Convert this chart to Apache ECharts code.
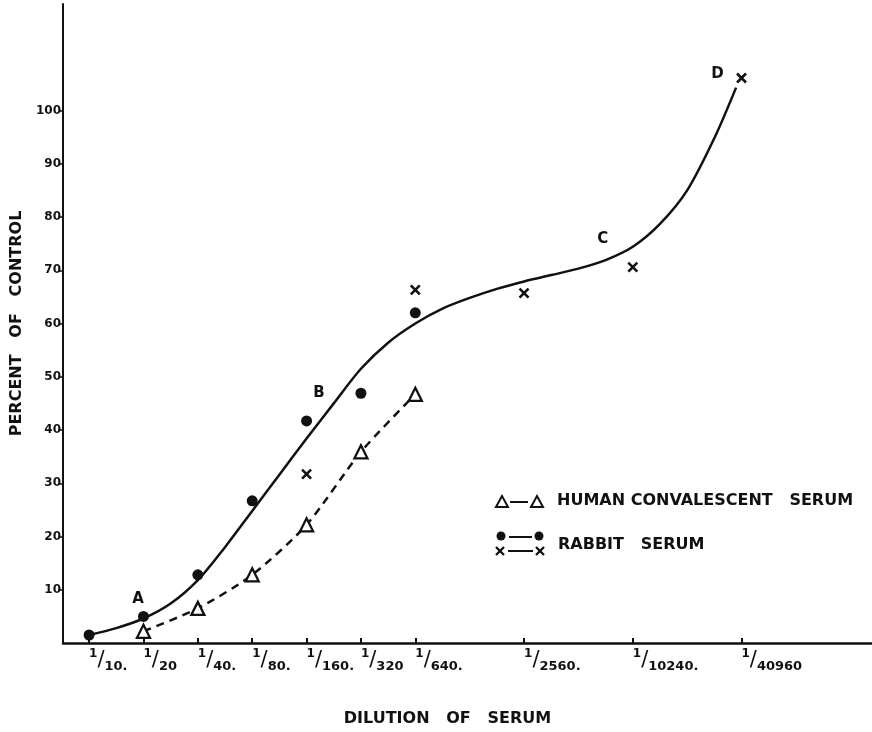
<!DOCTYPE html>
<html>
<head>
<meta charset="utf-8">
<script src="https://cdn.jsdelivr.net/npm/echarts@6/dist/echarts.min.js"></script>
<style>html,body{margin:0;padding:0;background:#fff}#c{width:872px;height:732px}</style>
</head>
<body>
<div id="c"></div>
<script>
// ---- data ----
const dilutions = [10, 20, 40, 80, 160, 320, 640, 2560, 10240, 40960];
const yTickValues = [10, 20, 30, 40, 50, 60, 70, 80, 90, 100];

const rabbitDotDil = [10, 20, 40, 80, 160, 320, 640];
const rabbitDotVal = [1.5, 5.0, 12.8, 26.7, 41.7, 46.9, 62.0];

const rabbitCrossDil = [160, 640, 2560, 10240, 40960];
const rabbitCrossVal = [31.7, 66.3, 65.7, 70.6, 106.1];

const humanDil = [20, 40, 80, 160, 320, 640];
const humanVal = [2.2, 6.5, 12.8, 22.2, 35.9, 46.7];

// drawn (fitted) rabbit curve, positions in doubling steps from 1/10
const curveStep = [0, 0.5, 1, 1.5, 2, 2.5, 3, 3.5, 4, 4.5, 5, 5.5, 6, 6.5, 7, 7.5, 8, 8.5, 9, 9.5, 10, 10.5, 11, 11.5, 11.9];
const curveVal  = [1.5, 2.8, 4.6, 7.4, 11.8, 18.0, 24.8, 31.6, 38.4, 45.0, 51.5, 56.4, 60.0, 62.8, 64.8, 66.5, 67.9, 69.1, 70.3, 71.9, 74.4, 78.7, 85.0, 94.8, 104.3];

const annoText = ['A', 'B', 'C', 'D'];
const annoStep = [0.9, 4.23, 9.45, 11.56];
const annoVal  = [8.3, 46.9, 75.9, 106.9];

// ---- helpers ----
const step = d => Math.log2(d / 10);
const tickSteps = dilutions.map(step);
const labelOf = {};
dilutions.forEach(d => { labelOf[step(d)] = d; });
const pts = (ds, vs) => ds.map((d, i) => [step(d), vs[i]]);

const INK = '#111';
const crossPath = 'path://M0,0L10,10M10,0L0,10';
const TITLE_FONT = {color: INK, fontSize: 16, fontWeight: 'bold', fontFamily: 'DejaVu Sans'};

const chart = echarts.init(document.getElementById('c'), null, {renderer: 'canvas'});
chart.setOption({
  animation: false,
  backgroundColor: '#fff',
  grid: {left: 63, right: 0, top: 4, bottom: 79, containLabel: false},
  xAxis: {
    type: 'value',
    min: -0.48, max: 14.4,
    name: 'DILUTION   OF   SERUM',
    nameLocation: 'middle',
    nameGap: 68,
    nameTextStyle: Object.assign({padding: [0, 40, 0, 0]}, TITLE_FONT),
    splitLine: {show: false},
    axisLine: {onZero: false, lineStyle: {color: INK, width: 2.5}},
    axisTick: {show: true, inside: true, length: 5, lineStyle: {color: INK, width: 2}, customValues: tickSteps},
    axisLabel: {
      customValues: tickSteps,
      margin: 5,
      align: 'left',
      color: INK,
      formatter: v => {
        const d = labelOf[v];
        return '{o|1}{s|/}{n|' + d + (d === 20 || d === 320 || d === 40960 ? '' : '.') + '}';
      },
      rich: {
        o: {fontSize: 12, fontWeight: 'bold', fontFamily: 'DejaVu Sans', verticalAlign: 'top', lineHeight: 25, color: INK},
        s: {fontSize: 21, fontFamily: 'DejaVu Sans', verticalAlign: 'middle', lineHeight: 25, color: INK},
        n: {fontSize: 13, fontWeight: 'bold', fontFamily: 'DejaVu Sans', verticalAlign: 'bottom', lineHeight: 25, color: INK}
      }
    }
  },
  yAxis: {
    type: 'value',
    min: 0, max: 120,
    name: 'PERCENT   OF   CONTROL',
    nameLocation: 'middle',
    nameGap: 36,
    nameTextStyle: TITLE_FONT,
    splitLine: {show: false},
    axisLine: {onZero: false, lineStyle: {color: INK, width: 2}},
    axisTick: {show: true, length: 4, lineStyle: {color: INK, width: 1.5}, customValues: yTickValues},
    axisLabel: {customValues: yTickValues, margin: 2, color: INK, fontSize: 12, fontWeight: 'bold', fontFamily: 'DejaVu Sans'}
  },
  series: [
    {
      name: 'rabbit curve', type: 'line', smooth: 0.3, symbol: 'none',
      data: curveStep.map((s, i) => [s, curveVal[i]]),
      lineStyle: {color: INK, width: 2.5}, z: 2
    },
    {
      name: 'human', type: 'line', smooth: 0.25,
      data: pts(humanDil, humanVal),
      symbol: 'triangle', symbolSize: 13,
      itemStyle: {color: '#fff', borderColor: INK, borderWidth: 2.3},
      lineStyle: {color: INK, width: 2.5, type: [8, 6]}, z: 3
    },
    {
      name: 'rabbit dots', type: 'scatter',
      data: pts(rabbitDotDil, rabbitDotVal),
      symbol: 'circle', symbolSize: 11,
      itemStyle: {color: INK, opacity: 1}, z: 4
    },
    {
      name: 'rabbit crosses', type: 'scatter',
      data: pts(rabbitCrossDil, rabbitCrossVal),
      symbol: crossPath, symbolSize: 9,
      itemStyle: {color: 'none', borderColor: INK, borderWidth: 2.6, opacity: 1}, z: 4
    },
    {
      name: 'letters', type: 'scatter', symbol: 'circle', symbolSize: 2, silent: true,
      itemStyle: {color: 'rgba(0,0,0,0)', opacity: 1},
      data: annoText.map((t, i) => ({name: t, value: [annoStep[i], annoVal[i]]})),
      label: {show: true, position: 'inside', formatter: p => p.name, color: INK, fontSize: 15, fontWeight: 'bold', fontFamily: 'DejaVu Sans'},
      labelLayout: {hideOverlap: false},
      z: 5
    }
  ],
  graphic: [
    // legend row 1
    {type: 'polygon', shape: {points: [[502, 496], [496, 507], [508, 507]]}, style: {fill: '#fff', stroke: INK, lineWidth: 2}},
    {type: 'line', shape: {x1: 510, y1: 502, x2: 528, y2: 502}, style: {stroke: INK, lineWidth: 2}},
    {type: 'polygon', shape: {points: [[537, 496], [531, 507], [543, 507]]}, style: {fill: '#fff', stroke: INK, lineWidth: 2}},
    {type: 'text', left: 557, top: 493, style: {text: 'HUMAN CONVALESCENT   SERUM', fill: INK, font: 'bold 16px "DejaVu Sans"'}},
    // legend row 2
    {type: 'circle', shape: {cx: 501, cy: 536, r: 4.5}, style: {fill: INK}},
    {type: 'line', shape: {x1: 509, y1: 537, x2: 532, y2: 537}, style: {stroke: INK, lineWidth: 2}},
    {type: 'circle', shape: {cx: 539, cy: 536, r: 4.5}, style: {fill: INK}},
    {type: 'line', shape: {x1: 496, y1: 547, x2: 504, y2: 555}, style: {stroke: INK, lineWidth: 2.3}},
    {type: 'line', shape: {x1: 504, y1: 547, x2: 496, y2: 555}, style: {stroke: INK, lineWidth: 2.3}},
    {type: 'line', shape: {x1: 508, y1: 551, x2: 533, y2: 551}, style: {stroke: INK, lineWidth: 2}},
    {type: 'line', shape: {x1: 536, y1: 547, x2: 544, y2: 555}, style: {stroke: INK, lineWidth: 2.3}},
    {type: 'line', shape: {x1: 544, y1: 547, x2: 536, y2: 555}, style: {stroke: INK, lineWidth: 2.3}},
    {type: 'text', left: 558, top: 537, style: {text: 'RABBIT   SERUM', fill: INK, font: 'bold 16px "DejaVu Sans"'}}
  ]
});
</script>
</body>
</html>
